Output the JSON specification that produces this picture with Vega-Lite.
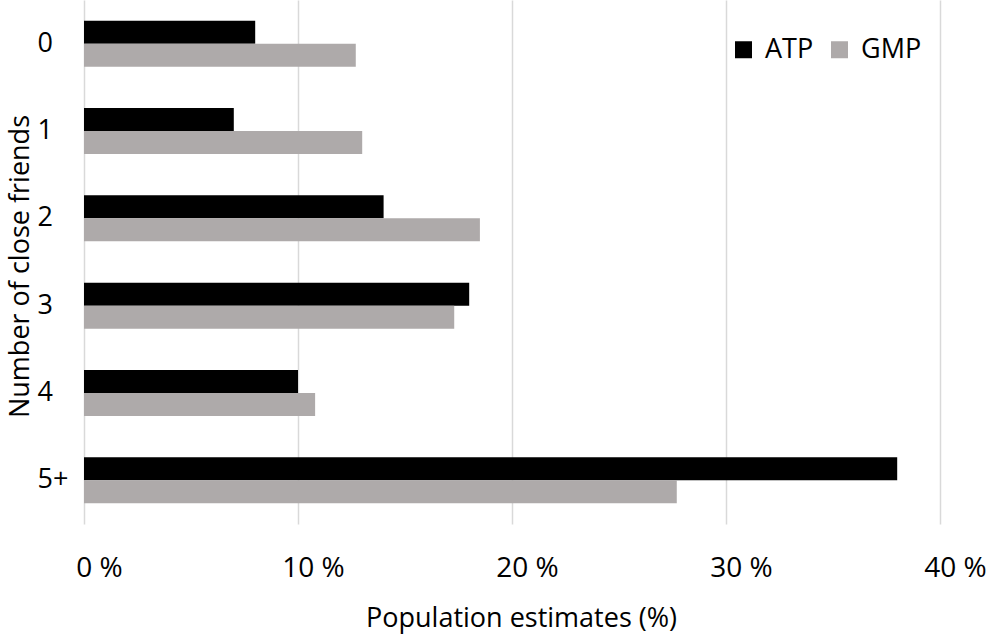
{
  "$schema": "https://vega.github.io/schema/vega-lite/v6.json",
  "autosize": {"type": "none"},
  "width": 856,
  "height": 524,
  "padding": {"left": 84, "top": 0, "right": 50, "bottom": 110},
  "background": "white",
  "config": {"font": "Open Sans", "view": {"stroke": null}},
  "data": {
    "values": [
      {"friends": "0", "series": "ATP", "estimate": 8.0},
      {"friends": "0", "series": "GMP", "estimate": 12.7},
      {"friends": "1", "series": "ATP", "estimate": 7.0},
      {"friends": "1", "series": "GMP", "estimate": 13.0},
      {"friends": "2", "series": "ATP", "estimate": 14.0},
      {"friends": "2", "series": "GMP", "estimate": 18.5},
      {"friends": "3", "series": "ATP", "estimate": 18.0},
      {"friends": "3", "series": "GMP", "estimate": 17.3},
      {"friends": "4", "series": "ATP", "estimate": 10.0},
      {"friends": "4", "series": "GMP", "estimate": 10.8},
      {"friends": "5+", "series": "ATP", "estimate": 38.0},
      {"friends": "5+", "series": "GMP", "estimate": 27.7}
    ]
  },
  "mark": {"type": "bar"},
  "encoding": {
    "y": {
      "field": "friends",
      "type": "nominal",
      "sort": ["0", "1", "2", "3", "4", "5+"],
      "title": "Number of close friends",
      "scale": {"paddingInner": 0.473, "paddingOuter": 0.2365},
      "axis": {
        "domain": false,
        "ticks": false,
        "tickSize": 0,
        "grid": false,
        "labelAlign": "left",
        "labelBaseline": "middle",
        "labelPadding": 47,
        "labelFontSize": 27,
        "labelColor": "#000000",
        "titleFontSize": 27,
        "titleFontWeight": "normal",
        "titleColor": "#000000",
        "titleAngle": -90,
        "titleAlign": "center",
        "titleBaseline": "alphabetic",
        "titleX": -56,
        "titleY": 266
      }
    },
    "yOffset": {
      "field": "series",
      "sort": ["ATP", "GMP"],
      "scale": {"paddingInner": 0, "paddingOuter": 0}
    },
    "x": {
      "field": "estimate",
      "type": "quantitative",
      "title": "Population estimates (%)",
      "scale": {"domain": [0, 40], "nice": false},
      "axis": {
        "values": [0, 10, 20, 30, 40],
        "domain": false,
        "ticks": false,
        "tickSize": 0,
        "grid": true,
        "gridColor": "#D9D9D9",
        "gridWidth": 1.5,
        "labelFlush": false,
        "labelPadding": 30,
        "labelOffset": 15,
        "labelFontSize": 28,
        "labelColor": "#000000",
        "labelExpr": "datum.value + ' %'",
        "titleFontSize": 27,
        "titleFontWeight": "normal",
        "titleColor": "#000000",
        "titleAlign": "center",
        "titleBaseline": "alphabetic",
        "titleX": 437,
        "titleY": 102
      }
    },
    "color": {
      "field": "series",
      "type": "nominal",
      "scale": {"domain": ["ATP", "GMP"], "range": ["#000000", "#AEAAAA"]},
      "legend": {
        "orient": "none",
        "legendX": 646,
        "legendY": 36,
        "direction": "horizontal",
        "title": null,
        "symbolType": "square",
        "symbolSize": 289,
        "symbolStrokeWidth": 0,
        "labelFontSize": 27,
        "labelColor": "#000000",
        "labelOffset": 8,
        "columnPadding": 12,
        "padding": 0
      }
    }
  }
}
